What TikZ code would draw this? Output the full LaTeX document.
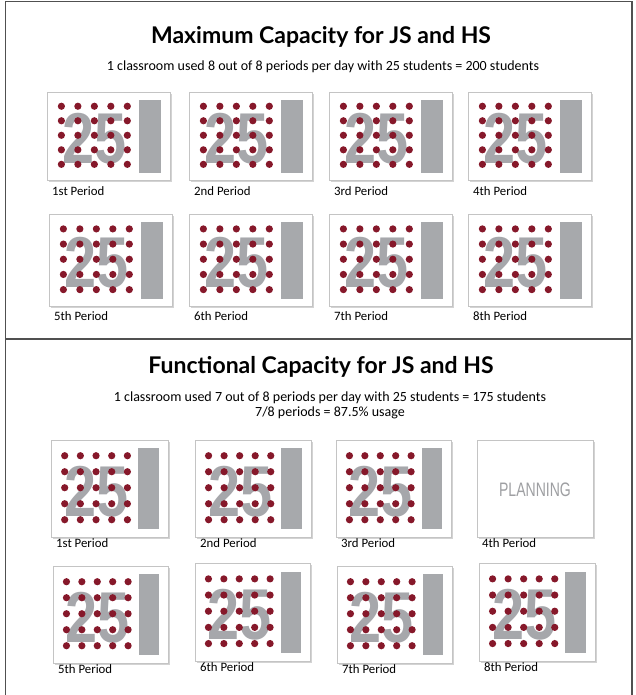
\documentclass[tikz,border=0pt]{standalone}
\usepackage{fontspec}
\setmainfont{Carlito}
\newfontfamily\titlefont{Lato}
\newfontfamily\numfont{Liberation Sans}
\usetikzlibrary{shadows}
\definecolor{dotc}{HTML}{86182A}
\definecolor{barc}{HTML}{A7A9AC}
\definecolor{numc}{HTML}{A6A7AB}
\definecolor{framec}{HTML}{505050}
\definecolor{edgec}{HTML}{C4C4C4}
\tikzset{
  card/.style={draw=edgec, line width=0.6pt, fill=white, inner sep=0pt,
    drop shadow={opacity=0.35, shadow xshift=1.5pt, shadow yshift=-1.8pt}},
  numtxt/.style={text=numc, font=\numfont\bfseries\fontsize{72}{72}\selectfont, inner sep=0pt, xscale=0.8},
  labtxt/.style={font=\fontsize{12.8}{13}\selectfont, inner sep=0pt, anchor=west},
  titletxt/.style={font=\titlefont\bfseries\fontsize{23}{26}\selectfont},
  subtxt/.style={font=\fontsize{14}{15}\selectfont, align=center},
  frameline/.style={draw=framec, line width=1.2pt}
}
% #1 name, #2 x, #3 y, #4 w, #5 h, #6 label, #7 label offset
\newcommand\classcard[7]{%
  \begin{scope}[shift={(#2,#3)}, x=#4pt, y=-#5pt]
    \node[card, minimum width=#4pt, minimum height=#5pt, anchor=north west] (#1) at (0,0) {};
    \fill[barc] (0.745,0.087) rectangle (0.925,0.92);
    \node[numtxt] (#1-n) at (0.39,0.53) {25};
    \foreach \i in {0,...,4}{\foreach \j in {0,...,4}{
      \fill[dotc] (0.117+0.134*\i, 0.162+0.165*\j) circle (3.6pt);}}
    \node[labtxt, xshift=5pt, yshift=-#7pt] (#1-l) at (0,1) {#6};
  \end{scope}}
\begin{document}
\begin{tikzpicture}[x=1pt, y=-1pt]
  \useasboundingbox (0,0) rectangle (635,695);
  % frame
  \draw[frameline] (5.5,696) -- (5.5,1.5) -- (632,1.5) -- (632,696);
  \draw[frameline] (5.5,339) -- (632,339);
  % top section
  \node[titletxt] (t1) at (321,37) {Maximum Capacity for JS and HS};
  \node[subtxt] (s1) at (323,67) {1 classroom used 8 out of 8 periods per day with 25 students = 200 students};
  \classcard{a1}{47}{92}{123}{88}{1st Period}{11}
  \classcard{a2}{189}{92}{123}{88}{2nd Period}{11}
  \classcard{a3}{329}{92}{123}{88}{3rd Period}{11}
  \classcard{a4}{468}{92}{123}{88}{4th Period}{11}
  \classcard{a5}{49}{214}{123}{92}{5th Period}{10}
  \classcard{a6}{189}{214}{123}{92}{6th Period}{10}
  \classcard{a7}{329}{214}{123}{92}{7th Period}{10}
  \classcard{a8}{468}{214}{123}{92}{8th Period}{10}
  % bottom section
  \node[titletxt] (t2) at (321,367) {Functional Capacity for JS and HS};
  \node[subtxt] (s2) at (330,405) {1 classroom used 7 out of 8 periods per day with 25 students = 175 students\\7/8 periods = 87.5\% usage};
  \classcard{b1}{51}{440}{117}{97}{1st Period}{6}
  \classcard{b2}{195}{440}{116}{97}{2nd Period}{6}
  \classcard{b3}{336}{440}{115}{97}{3rd Period}{6}
  \node[card, minimum width=116pt, minimum height=97pt, anchor=north west] (b4) at (477,440) {};
  \node[text=numc!95!black, font=\numfont\fontsize{19.5}{20}\selectfont, xscale=0.72, inner sep=0pt] (b4-n) at (535,490) {PLANNING};
  \node[labtxt] (b4-l) at (482,543) {4th Period};
  \classcard{b5}{53}{566}{115}{97}{5th Period}{6}
  \classcard{b6}{195}{563}{115}{98}{6th Period}{6}
  \classcard{b7}{337}{566}{115}{97}{7th Period}{6}
  \classcard{b8}{479}{563}{116}{98}{8th Period}{6}
\end{tikzpicture}
\end{document}
